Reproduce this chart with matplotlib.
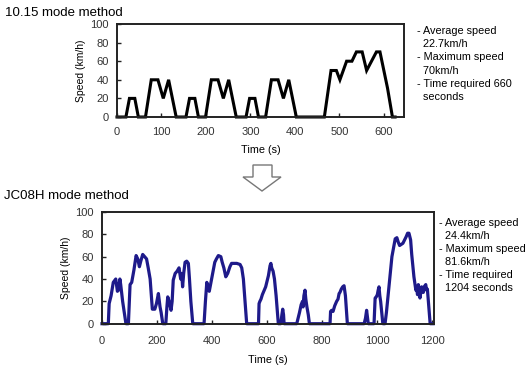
import matplotlib.pyplot as plt
from matplotlib.patches import Polygon

plt.rcParams['font.family'] = ['Liberation Sans', 'DejaVu Sans']

# 10.15 mode speed profile (s, km/h)
t_1015 = [0, 20, 28, 40, 48, 64, 77, 92, 104, 116, 133,
          155, 163, 175, 183, 199, 212, 227, 239, 251, 268,
          290, 298, 310, 318, 334, 347, 362, 374, 386, 403,
          466, 481, 493, 501, 516, 528, 538, 551, 561, 583, 591, 608, 619, 625]
v_1015 = [0, 0, 20, 20, 0, 0, 40, 40, 20, 40, 0,
          0, 20, 20, 0, 0, 40, 40, 20, 40, 0,
          0, 20, 20, 0, 0, 40, 40, 20, 40, 0,
          0, 50, 50, 40, 60, 60, 70, 70, 50, 70, 70, 31, 0, 0]

# JC08H mode speed profile (s, km/h)
t_jc08 = [0, 23, 26, 33, 41, 50, 56, 60, 65, 68, 75, 81, 87, 96,
          102, 108, 116, 124, 130, 136, 141, 148, 155, 162, 168, 175, 183, 192, 198, 205, 211, 215, 221,
          232, 236, 239, 244, 251, 255, 259, 266, 273, 280, 286, 290, 293, 297, 302, 308, 314, 318, 323, 330,
          371, 376, 381, 386, 390, 397, 405, 410, 416, 423, 432, 437, 443, 450, 457, 465, 471, 480, 490, 502, 508, 514, 520, 526,
          569, 571, 574, 578, 583, 590, 595, 599, 605, 611, 614, 617, 622, 627, 633, 641,
          650, 654, 657, 660, 662,
          708, 713, 718, 724, 729, 731, 734, 738, 741, 745, 750, 754,
          829, 831, 835, 840, 846, 853, 858, 862, 865, 870, 875, 880, 885, 892,
          953, 958, 962, 965, 968,
          989, 993, 997, 1001, 1004, 1007, 1010, 1013, 1017, 1021,
          1029, 1034, 1038, 1042, 1046, 1050, 1054, 1060, 1066, 1072, 1077, 1082, 1088, 1094, 1100, 1106,
          1111, 1116, 1122, 1126, 1130, 1134, 1138, 1141, 1144, 1147, 1150, 1153, 1156, 1159, 1162, 1165,
          1168, 1171, 1174, 1177, 1180, 1183, 1188, 1193, 1204]
v_jc08 = [0, 0, 18, 25, 37, 40, 29, 30, 40, 35, 20, 10, 0, 0,
          35, 37, 48, 61, 58, 51, 56, 62, 60, 58, 50, 40, 13, 13, 18, 27, 15, 10, 0,
          0, 15, 24, 20, 12, 20, 39, 45, 47, 50, 40, 45, 33, 45, 55, 56, 54, 40, 20, 0,
          0, 20, 37, 33, 29, 38, 48, 55, 58, 61, 60, 55, 50, 42, 45, 51, 54, 54, 54, 53, 50, 40, 20, 0,
          0, 18, 20, 22, 26, 30, 33, 37, 43, 52, 54, 50, 47, 40, 25, 0,
          0, 8, 13, 8, 0,
          0, 5, 10, 17, 20, 15, 25, 30, 22, 15, 8, 0,
          0, 11, 12, 11, 16, 20, 22, 27, 28, 31, 33, 34, 25, 0,
          0, 5, 12, 6, 0,
          0, 23, 24, 26, 30, 33, 25, 20, 10, 0,
          0, 10, 20, 30, 40, 50, 60, 68, 76, 77, 73, 70, 71, 72, 75, 78,
          81, 81, 75, 62, 52, 42, 35, 30, 32, 26, 35, 30, 23, 28, 33, 31,
          28, 33, 34, 35, 30, 31, 15, 0, 0]

notes_1015 = ['- Average speed', '  22.7km/h', '- Maximum speed', '  70km/h',
              '- Time required 660', '  seconds']
notes_jc08 = ['- Average speed', '  24.4km/h', '- Maximum speed', '  81.6km/h',
              '- Time required', '  1204 seconds']

W, H = 532, 367
fig = plt.figure(figsize=(W / 100, H / 100), dpi=100)


def style_axes(ax, xmax, xticks, xpad):
    ax.set_xlim(0, xmax)
    ax.set_ylim(0, 100)
    ax.set_xticks(xticks)
    ax.set_yticks([0, 20, 40, 60, 80, 100])
    ax.tick_params(direction='in', length=3, width=1, labelsize=8,
                   labelcolor='#333333', color='#222222')
    ax.tick_params(axis='x', pad=xpad)
    ax.tick_params(axis='y', pad=6)
    for s in ax.spines.values():
        s.set_linewidth(1.4)
        s.set_color('#222222')
    ax.set_ylabel('Speed (km/h)', fontsize=7.5, labelpad=3)
    ax.set_xlabel('Time (s)', fontsize=7.8, labelpad=6)


ax1 = fig.add_axes([117 / W, 1 - 117 / H, 287 / W, 93 / H])
ax1.plot(t_1015, v_1015, color='black', lw=2.2, clip_on=False, solid_joinstyle='miter')
style_axes(ax1, 645, [0, 100, 200, 300, 400, 500, 600], 7)

ax2 = fig.add_axes([102 / W, 1 - 323.7 / H, 332 / W, 111.7 / H])
ax2.plot(t_jc08, v_jc08, color='#1e1a8a', lw=2.3, clip_on=False)
style_axes(ax2, 1207, [0, 200, 400, 600, 800, 1000, 1200], 9)

fig.text(5 / W, 1 - 13 / H, '10.15 mode method', fontsize=9.5, va='center', ha='left')
fig.text(4 / W, 1 - 196 / H, 'JC08H mode method', fontsize=9.5, va='center', ha='left')

for i, line in enumerate(notes_1015):
    fig.text(417 / W, 1 - (31 + i * 13.2) / H, line, fontsize=7.8, va='center', ha='left')
for i, line in enumerate(notes_jc08):
    fig.text(439 / W, 1 - (222.7 + i * 13.1) / H, line, fontsize=7.8, va='center', ha='left')

# hollow down arrow between the charts (pixel coordinates)
arrow_px = [(253, 165), (272, 165), (272, 177), (281, 177), (262, 191),
            (243, 177), (253, 177)]
arrow = Polygon([(x / W, 1 - y / H) for x, y in arrow_px], closed=True,
                transform=fig.transFigure, facecolor='white',
                edgecolor='#777777', lw=1.0)
fig.patches.append(arrow)

fig.savefig('out.png', dpi=100)
